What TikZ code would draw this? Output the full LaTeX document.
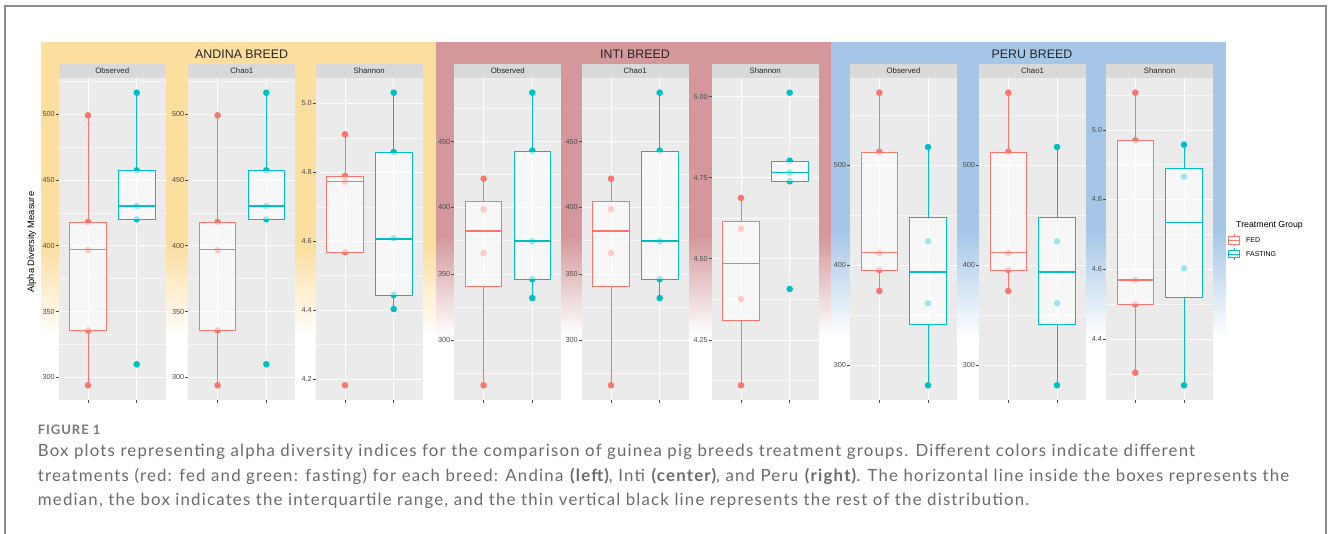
\documentclass[tikz,border=0pt]{standalone}
\usepackage{fontspec}
\setmainfont{Liberation Sans}
\newfontfamily\capfont{Lato}[LetterSpace=7.2]
\definecolor{fed}{HTML}{F8766D}
\definecolor{fast}{HTML}{00BFC4}
\definecolor{pbg}{HTML}{EBEBEB}
\definecolor{stripc}{HTML}{D9D9D9}
\definecolor{andina}{HTML}{FCDE9E}
\definecolor{andinamid}{HTML}{FFF1C8}
\definecolor{inti}{HTML}{D4979C}
\definecolor{intimid}{HTML}{DDD8E8}
\definecolor{peru}{HTML}{A5C6E7}
\definecolor{perumid}{HTML}{CBCBCD}
\definecolor{captxt}{HTML}{6B6B6B}
\definecolor{ticktxt}{HTML}{4D4D4D}
\definecolor{framec}{HTML}{8C8C8C}
\tikzset{
  gridmaj/.style={white, line width=0.9},
  gridmin/.style={white!60!pbg, line width=0.45},
  tickl/.style={ticktxt, line width=0.6},
  ticklab/.style={anchor=east, inner sep=0pt, font=\fontsize{7.3}{8}\selectfont, text=ticktxt},
  striplab/.style={inner sep=0pt, font=\fontsize{7.8}{9}\selectfont, text=black!85},
  bandlab/.style={inner sep=0pt, font=\fontsize{12.4}{14}\selectfont, text=black!85},
  captext/.style={anchor=base west, inner sep=0pt, font=\capfont\fontsize{16.8}{19}\selectfont, text=captxt},
}
\newcommand\facet[3]{%
  \fill[pbg] (#1,77.7) rectangle ++(107,322.3);
  \fill[stripc] (#1,64.3) rectangle ++(107,13.4);
  \node[striplab] (#3) at (#1+53.5,71) {#2};
  \draw[tickl] (#1+29.3,400) -- ++(0,3);
  \draw[tickl] (#1+78,400) -- ++(0,3);
}
\newcommand\hgrid[3]{%
  \foreach \yy in {#3} \draw[gridmin] (#1,\yy) -- ++(107,0);
  \foreach \yy in {#2} \draw[gridmaj] (#1,\yy) -- ++(107,0);
  \draw[gridmaj] (#1+29.3,77.7) -- (#1+29.3,400);
  \draw[gridmaj] (#1+78,77.7) -- (#1+78,400);
}
\newcommand\yticks[3]{%
  \foreach \yy/\lab [count=\i] in {#3} {
    \draw[tickl] (#1-3,\yy) -- (#1,\yy);
    \node[ticklab] (#2t\i) at (#1-3.8,\yy) {\lab};
  }}
\newcommand\pts[3]{\foreach \yy in {#3} \fill[#2] (#1,\yy) circle (3.3);}
\newcommand\bxp[7]{%
  \draw[#7, line width=0.9] (#1,#5) -- (#1,#2);
  \draw[#7, line width=0.9] (#1,#3) -- (#1,#6);
  \fill[white, fill opacity=0.62] (#1-18.3,#2) rectangle (#1+18.3,#3);
  \draw[#7, line width=0.9] (#1-18.3,#2) rectangle (#1+18.3,#3);
  \draw[#7, line width=1.5] (#1-18.3,#4) -- (#1+18.3,#4);
}
\newcommand\lkey[2]{% y, color
  \draw[#2, line width=0.7] (1234,#1-6) -- (1234,#1-3.8);
  \draw[#2, line width=0.7] (1234,#1+3.8) -- (1234,#1+6);
  \draw[#2, line width=0.7] (1228.5,#1-3.8) rectangle (1239.5,#1+3.8);
  \draw[#2, line width=0.7] (1228.5,#1) -- (1239.5,#1);
}
\begin{document}
\begin{tikzpicture}[x=1pt,y=-1pt]
\useasboundingbox (0,0) rectangle (1328,534);
\fill[white] (0,0) rectangle (1328,534);
% breed bands
\fill[andina] (41,42) rectangle (436,245);
\shade[top color=andina, middle color=andinamid, bottom color=white] (41,244.5) rectangle (436,336);
\fill[inti] (436,42) rectangle (831,236);
\shade[top color=inti, middle color=intimid, bottom color=white] (436,235.5) rectangle (831,336);
\fill[peru] (831,42) rectangle (1225.5,230);
\shade[top color=peru, middle color=perumid, bottom color=white] (831,229.5) rectangle (1225.5,338);
\node[bandlab] (tA) at (241.7,54) {ANDINA BREED};
\node[bandlab] (tI) at (635,54) {INTI BREED};
\node[bandlab] (tP) at (1032,54) {PERU BREED};
% facets
\facet{58.7}{Observed}{sAO}
\facet{188.3}{Chao1}{sAC}
\facet{315.7}{Shannon}{sAS}
\facet{454.3}{Observed}{sIO}
\facet{581.7}{Chao1}{sIC}
\facet{711.7}{Shannon}{sIS}
\facet{850}{Observed}{sPO}
\facet{979}{Chao1}{sPC}
\facet{1106}{Shannon}{sPS}
% grids
\hgrid{58.7}{114.3,180.05,245.8,311.55,377.3}{81.4,147.2,212.9,278.7,344.4}
\hgrid{188.3}{114.3,180.05,245.8,311.55,377.3}{81.4,147.2,212.9,278.7,344.4}
\hgrid{315.7}{103.3,172.3,241.3,310,379}{137.8,206.8,275.7,344.5}
\hgrid{454.3}{141.7,207.3,274,340.3}{108.6,174.5,240.7,307,373.5}
\hgrid{581.7}{141.7,207.3,274,340.3}{108.6,174.5,240.7,307,373.5}
\hgrid{711.7}{96.7,177.7,258.7,340}{137.2,218.2,299.3,380.5}
\hgrid{850}{165,265.3,365}{115,215,315}
\hgrid{979}{165,265.3,365}{115,215,315}
\hgrid{1106}{130,199.3,269.3,339}{95.2,164.7,234.3,304.2,374}
% ticks
\yticks{58.7}{AO}{114.3/500,180.05/450,245.8/400,311.55/350,377.3/300}
\yticks{188.3}{AC}{114.3/500,180.05/450,245.8/400,311.55/350,377.3/300}
\yticks{315.7}{AS}{103.3/5.0,172.3/4.8,241.3/4.6,310/4.4,379/4.2}
\yticks{454.3}{IO}{141.7/450,207.3/400,274/350,340.3/300}
\yticks{581.7}{IC}{141.7/450,207.3/400,274/350,340.3/300}
\yticks{711.7}{IS}{96.7/5.00,177.7/4.75,258.7/4.50,340/4.25}
\yticks{850}{PO}{165/500,265.3/400,365/300}
\yticks{979}{PC}{165/500,265.3/400,365/300}
\yticks{1106}{PS}{130/5.0,199.3/4.8,269.3/4.6,339/4.4}
% Andina Observed / Chao1
\pts{88}{fed}{115.3,222,250,330.3,385.3}
\pts{136.7}{fast}{92.7,170.3,206,219.3,364.3}
\bxp{88}{222}{330.3}{249.3}{115.3}{385.3}{fed}
\bxp{136.7}{170.7}{219.3}{206}{92.7}{219.3}{fast}
\pts{217.6}{fed}{115.3,222,250,330.3,385.3}
\pts{266.3}{fast}{92.7,170.3,206,219.3,364.3}
\bxp{217.6}{222}{330.3}{249.3}{115.3}{385.3}{fed}
\bxp{266.3}{170.7}{219.3}{206}{92.7}{219.3}{fast}
% Andina Shannon
\pts{345}{fed}{134.3,176,181.7,252.3,385.3}
\pts{393.7}{fast}{92.7,152,238.3,295,309}
\bxp{345}{176}{252.3}{181.7}{134.3}{252.3}{fed}
\bxp{393.7}{152}{295}{239}{92.7}{309}{fast}
% Inti Observed / Chao1
\pts{483.6}{fed}{178.7,209.3,253,385.3}
\pts{532.3}{fast}{92.7,150.7,241.3,279.3,298}
\bxp{483.6}{201.7}{286}{231}{178.7}{385.3}{fed}
\bxp{532.3}{151}{279.3}{241}{92.7}{298}{fast}
\pts{611}{fed}{178.7,209.3,253,385.3}
\pts{659.7}{fast}{92.7,150.7,241.3,279.3,298}
\bxp{611}{201.7}{286}{231}{178.7}{385.3}{fed}
\bxp{659.7}{151}{279.3}{241}{92.7}{298}{fast}
% Inti Shannon
\pts{741}{fed}{198,228.7,299,385.3}
\pts{789.7}{fast}{92.7,160.7,172.7,181.3,289}
\bxp{741}{221}{320.7}{263.7}{198}{385.3}{fed}
\bxp{789.7}{161}{181}{172.3}{161}{181}{fast}
% Peru Observed / Chao1
\pts{879.3}{fed}{92.7,151.7,253,270,291}
\pts{928}{fast}{147,241.3,303.3,385.3}
\bxp{879.3}{152.3}{270.3}{252.7}{92.7}{291}{fed}
\bxp{928}{217.3}{324}{272}{147}{385.3}{fast}
\pts{1008.3}{fed}{92.7,151.7,253,270,291}
\pts{1057}{fast}{147,241.3,303.3,385.3}
\bxp{1008.3}{152.3}{270.3}{252.7}{92.7}{291}{fed}
\bxp{1057}{217.3}{324}{272}{147}{385.3}{fast}
% Peru Shannon
\pts{1135.3}{fed}{92.7,140.3,280,304.3,372.7}
\pts{1184}{fast}{144.7,176.7,268.3,385.3}
\bxp{1135.3}{140.7}{304.3}{280}{92.7}{372.7}{fed}
\bxp{1184}{168.7}{297.7}{222.7}{144.7}{385.3}{fast}
% axis title
\node[rotate=90, inner sep=0pt, font=\fontsize{9.3}{11}\selectfont] (ytitle) at (31.7,242.2) {Alpha Diversity Measure};
% legend
\node[anchor=west, inner sep=0pt, font=\fontsize{8.8}{10}\selectfont] (legt) at (1236,225) {Treatment Group};
\lkey{240.5}{fed}
\lkey{254}{fast}
\node[anchor=west, inner sep=0pt, font=\fontsize{7}{8}\selectfont] (lfed) at (1246,240.5) {FED};
\node[anchor=west, inner sep=0pt, font=\fontsize{7}{8}\selectfont] (lfast) at (1246,254) {FASTING};
% frame
\draw[framec, line width=1.4] (5,534) -- (5,6) -- (1326,6) -- (1326,534);
% caption
\node[captext, font=\capfont\bfseries\fontsize{13}{15}\selectfont, text=captxt!90] (fig) at (37.7,434.3) {FIGURE 1};
\node[captext] (c1) at (37.7,456.7) {Box plots representing alpha diversity indices for the comparison of guinea pig breeds treatment groups. Different colors indicate different};
\node[captext] (c2) at (37.7,481.3) {treatments (red: fed and green: fasting) for each breed: Andina \textbf{(left)}, Inti \textbf{(center)}, and Peru \textbf{(right)}. The horizontal line inside the boxes represents the};
\node[captext] (c3) at (37.7,505.3) {median, the box indicates the interquartile range, and the thin vertical black line represents the rest of the distribution.};
\end{tikzpicture}
\end{document}
